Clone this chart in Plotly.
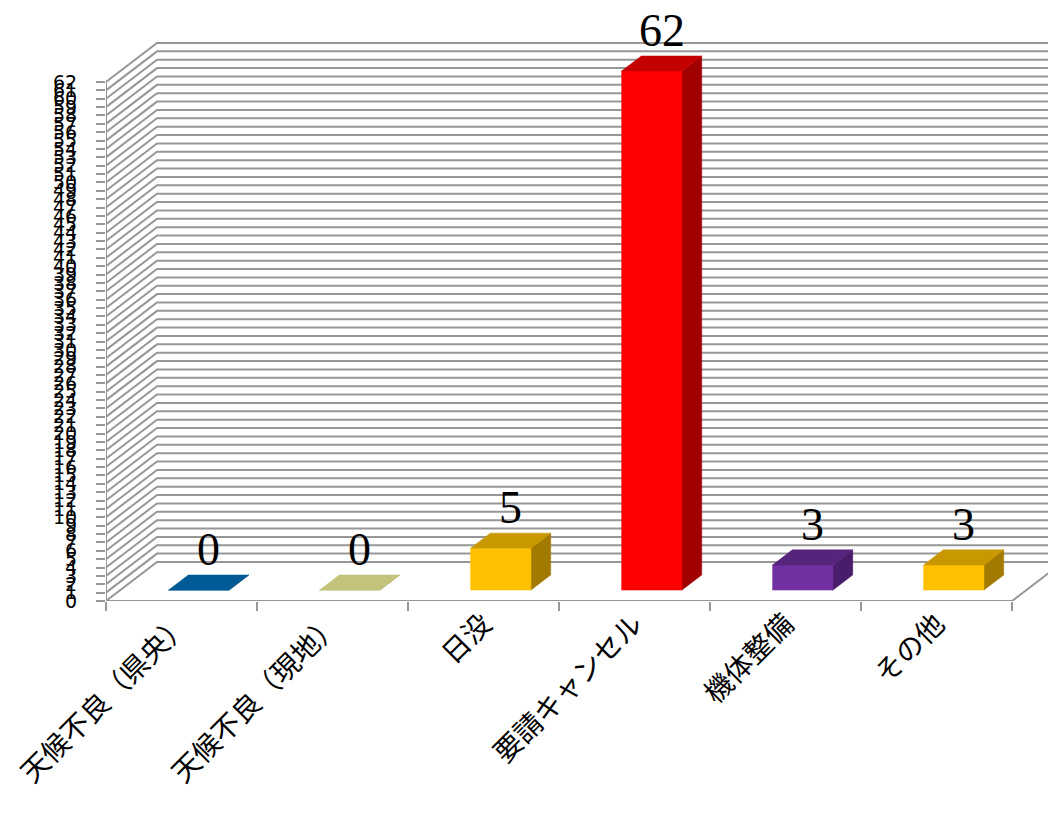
import plotly.graph_objects as go

# ---- data ----
categories = ["天候不良（県央）", "天候不良（現地）", "日没", "要請キャンセル", "機体整備", "その他"]
values = [0, 0, 5, 62, 3, 3]
front_colors = ["#0062A4", "#C4C47C", "#FFC000", "#FF0000", "#7030A0", "#FFC000"]
top_colors = ["#005A96", "#C3C37B", "#C99700", "#C40000", "#56237D", "#C99700"]
side_colors = ["#004470", "#9C9C5E", "#A27A00", "#A00000", "#481D69", "#A27A00"]
y_ticks = list(range(0, 63))
y_max = 62

# ---- pseudo-3D geometry (in axis units) ----
DX = 0.3377          # depth offset along x (category units)
DY = 4.66            # depth offset along y (value units)
F0, F1 = 0.28, 0.667 # bar front / back depth fractions
A, B = 0.32, 0.72    # bar extent inside a category at depth 0
n = len(categories)
FIG_W, FIG_H = 1048, 805
ML, MB = 98, 212
x_right = (FIG_W - ML) / 151
y_top = (FIG_H - MB) / 8.371

fig = go.Figure()

# walls / gridlines
gx, gy = [], []
for v in y_ticks:
    gx += [0, DX, x_right + 1, None]
    gy += [v, v + DY, v + DY, None]
# front-left vertical edge
gx += [0, 0, None]
gy += [0, y_max, None]
# floor front edge and right edge
gx += [0, n, n + DX, None]
gy += [0, 0, DY, None]
fig.add_trace(go.Scatter(x=gx, y=gy, mode="lines", line=dict(color="#979797", width=2),
                         hoverinfo="skip", showlegend=False))

# bars
for i, (v, fc, tc, sc) in enumerate(zip(values, front_colors, top_colors, side_colors)):
    x0, x1 = i + A, i + B
    b0, b1 = F0 * DY, F1 * DY
    ox0, ox1 = F0 * DX, F1 * DX
    # side face
    fig.add_trace(go.Scatter(
        x=[x1 + ox0, x1 + ox1, x1 + ox1, x1 + ox0, x1 + ox0],
        y=[b0, b1, v + b1, v + b0, b0],
        fill="toself", fillcolor=sc, mode="lines", line=dict(width=0.5, color=sc),
        hoverinfo="skip", showlegend=False))
    # front face
    fig.add_trace(go.Scatter(
        x=[x0 + ox0, x1 + ox0, x1 + ox0, x0 + ox0, x0 + ox0],
        y=[b0, b0, v + b0, v + b0, b0],
        fill="toself", fillcolor=fc, mode="lines", line=dict(width=0.5, color=fc),
        hoverinfo="skip", showlegend=False))
    # top face
    fig.add_trace(go.Scatter(
        x=[x0 + ox0, x1 + ox0, x1 + ox1, x0 + ox1, x0 + ox0],
        y=[v + b0, v + b0, v + b1, v + b1, v + b0],
        fill="toself", fillcolor=tc, mode="lines", line=dict(width=0.5, color=tc),
        hoverinfo="skip", showlegend=False))
    # data label
    fig.add_annotation(x=i + (A + B) / 2 + (F0 + F1) / 2 * DX, y=v + b1, text=str(v),
                       showarrow=False, yanchor="bottom", xanchor="center", yshift=-2,
                       font=dict(family="Liberation Serif", size=46, color="black"))

fig.update_layout(
    width=FIG_W, height=FIG_H,
    margin=dict(l=ML, r=0, t=0, b=MB),
    paper_bgcolor="white", plot_bgcolor="white",
    showlegend=False,
    xaxis=dict(range=[0, x_right], showgrid=False, zeroline=False, showline=False,
               automargin=False,
               tickmode="array", tickvals=[i + 0.5 for i in range(n)], ticktext=categories,
               tickangle=-45, ticks="", ticklabelstandoff=0,
               tickfont=dict(family="Noto Sans CJK JP", size=28, color="black"),
               minor=dict(tickmode="array", tickvals=list(range(n + 1)), ticks="outside",
                          ticklen=9, tickwidth=2, tickcolor="#979797", showgrid=False)),
    yaxis=dict(range=[0, y_top], showgrid=False, zeroline=False, showline=False,
               automargin=False,
               tickmode="array", tickvals=y_ticks, ticktext=[str(t) for t in y_ticks],
               ticks="outside", ticklen=9, tickwidth=2, tickcolor="#979797",
               ticklabelstandoff=15,
               tickfont=dict(family="DejaVu Sans", size=19, color="black")),
)

fig.write_html("out.html")
